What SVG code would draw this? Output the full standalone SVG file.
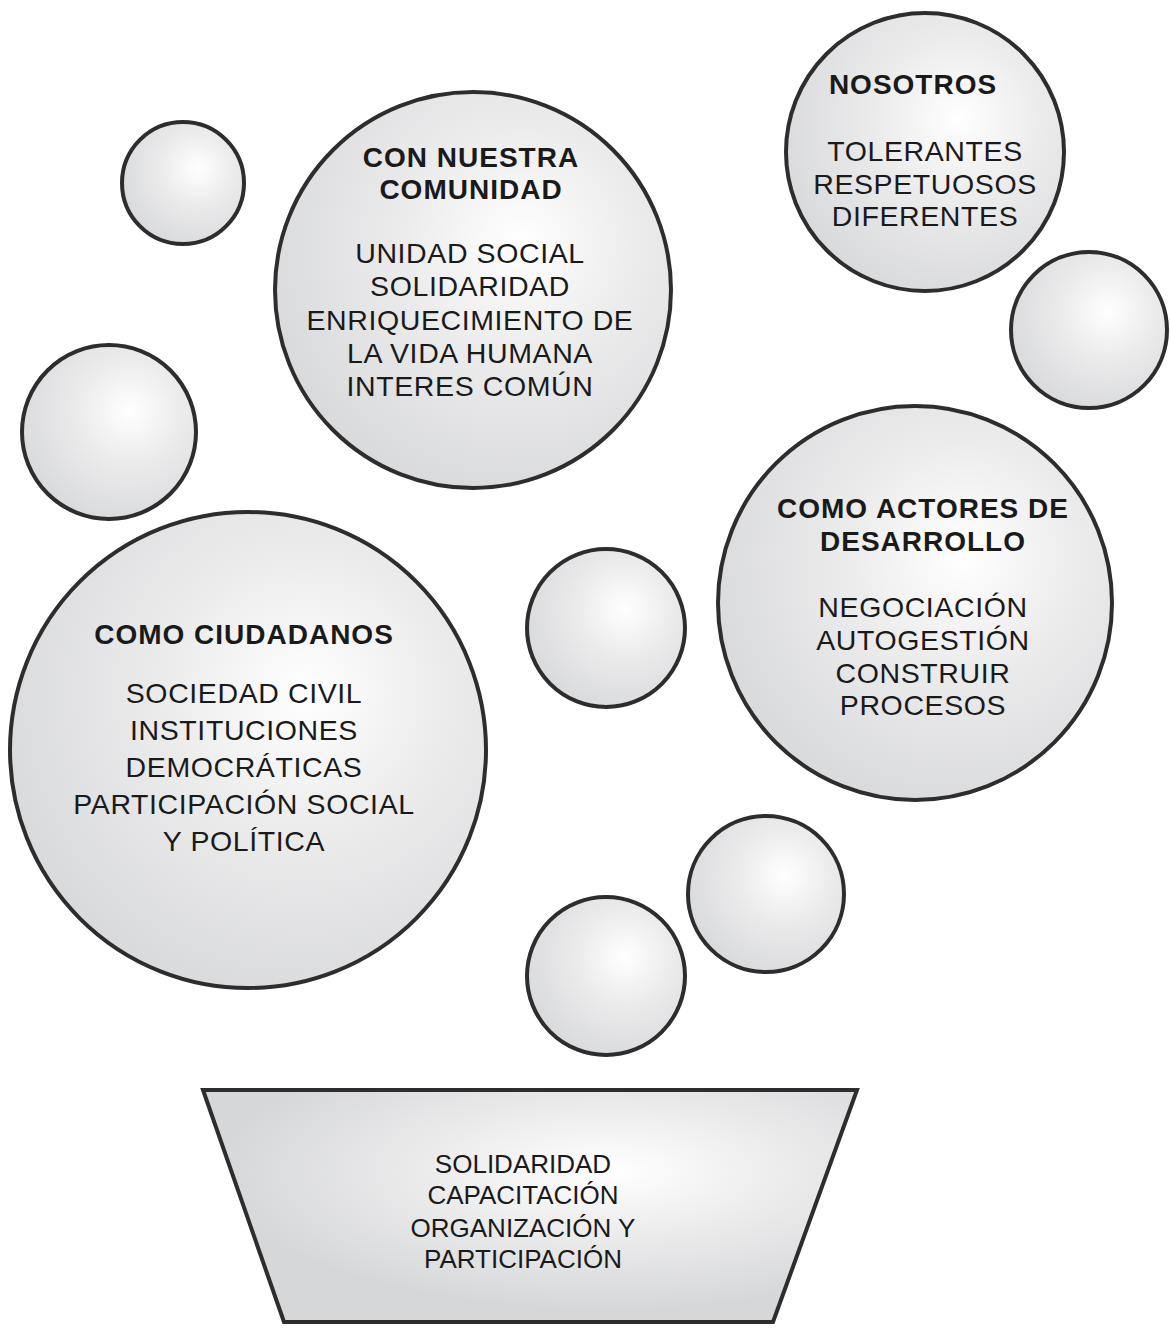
<svg xmlns="http://www.w3.org/2000/svg" width="1170" height="1328" viewBox="0 0 1170 1328">
<defs>
<radialGradient id="ball" cx="0.62" cy="0.38" r="0.72" fx="0.62" fy="0.38">
<stop offset="0" stop-color="#ffffff"/>
<stop offset="0.4" stop-color="#ececed"/>
<stop offset="1" stop-color="#d6d7d9"/>
</radialGradient>
<radialGradient id="trap" cx="0.62" cy="0.35" r="0.6" fx="0.62" fy="0.35">
<stop offset="0" stop-color="#ffffff"/>
<stop offset="0.45" stop-color="#ececed"/>
<stop offset="1" stop-color="#d6d7d9"/>
</radialGradient>
<style>
.b{fill:url(#ball);stroke:#2d2d2d;stroke-width:4}
.t{fill:url(#trap);stroke:#2d2d2d;stroke-width:4}
.h{font-family:"Liberation Sans",Arial,sans-serif;font-weight:bold;font-size:28px;letter-spacing:1px;fill:#1a1a1a;text-anchor:middle}
.x{font-family:"Liberation Sans",Arial,sans-serif;font-size:28.5px;letter-spacing:0.6px;fill:#1a1a1a;text-anchor:middle}
.s{font-family:"Liberation Sans",Arial,sans-serif;font-size:26px;fill:#1a1a1a;text-anchor:middle}
</style>
</defs>
<rect width="1170" height="1328" fill="#ffffff"/>
<g id="connectors"/>
<g id="bubble-small-1"><circle class="b" cx="183" cy="183" r="61"/></g>
<g id="bubble-small-2"><circle class="b" cx="109" cy="432" r="87"/></g>
<g id="bubble-small-3"><circle class="b" cx="1089" cy="330" r="78"/></g>
<g id="bubble-small-4"><circle class="b" cx="606" cy="628" r="79"/></g>
<g id="bubble-small-5"><circle class="b" cx="766" cy="894" r="78"/></g>
<g id="bubble-small-6"><circle class="b" cx="606" cy="976" r="79"/></g>
<g id="comunidad">
<circle class="b" cx="473" cy="290" r="198"/>
<text class="h" x="471" y="167">CON NUESTRA</text>
<text class="h" x="471" y="199">COMUNIDAD</text>
<text class="x" x="470" y="263">UNIDAD SOCIAL</text>
<text class="x" x="470" y="296">SOLIDARIDAD</text>
<text class="x" x="470" y="330">ENRIQUECIMIENTO DE</text>
<text class="x" x="470" y="363">LA VIDA HUMANA</text>
<text class="x" x="470" y="396">INTERES COMÚN</text>
</g>
<g id="nosotros">
<circle class="b" cx="925" cy="152" r="139"/>
<text class="h" x="913" y="94">NOSOTROS</text>
<text class="x" x="925" y="161">TOLERANTES</text>
<text class="x" x="925" y="194">RESPETUOSOS</text>
<text class="x" x="925" y="226">DIFERENTES</text>
</g>
<g id="actores">
<circle class="b" cx="915" cy="603" r="197"/>
<text class="h" x="923" y="518">COMO ACTORES DE</text>
<text class="h" x="923" y="551">DESARROLLO</text>
<text class="x" x="923" y="617">NEGOCIACIÓN</text>
<text class="x" x="923" y="650">AUTOGESTIÓN</text>
<text class="x" x="923" y="683">CONSTRUIR</text>
<text class="x" x="923" y="715">PROCESOS</text>
</g>
<g id="ciudadanos">
<circle class="b" cx="248" cy="750" r="238"/>
<text class="h" x="244" y="644">COMO CIUDADANOS</text>
<text class="x" x="244" y="703">SOCIEDAD CIVIL</text>
<text class="x" x="244" y="740">INSTITUCIONES</text>
<text class="x" x="244" y="777">DEMOCRÁTICAS</text>
<text class="x" x="244" y="814">PARTICIPACIÓN SOCIAL</text>
<text class="x" x="244" y="851">Y POLÍTICA</text>
</g>
<g id="base">
<polygon class="t" points="203,1090 857,1090 773,1322 284,1322"/>
<text class="s" x="523" y="1173">SOLIDARIDAD</text>
<text class="s" x="523" y="1204">CAPACITACIÓN</text>
<text class="s" x="523" y="1237">ORGANIZACIÓN Y</text>
<text class="s" x="523" y="1268">PARTICIPACIÓN</text>
</g>
</svg>
